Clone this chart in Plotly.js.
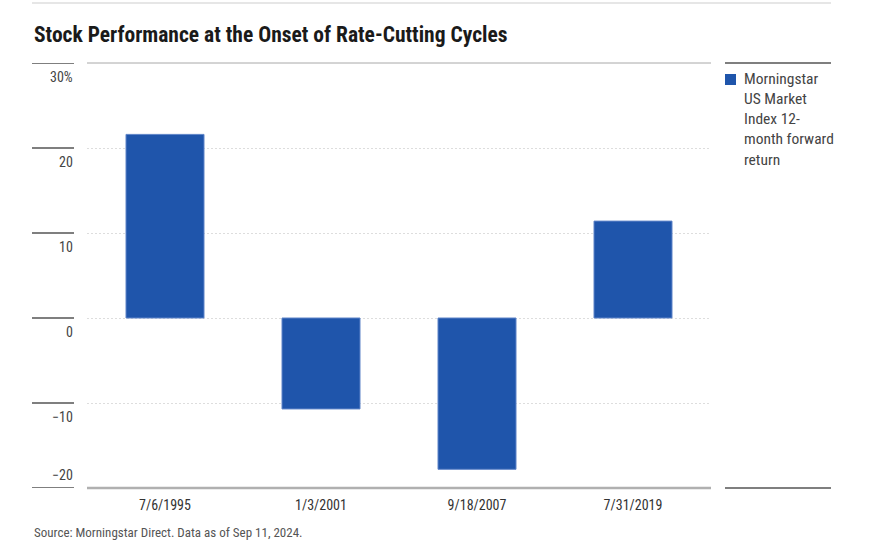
<!DOCTYPE html>
<html>
<head>
<meta charset="utf-8">
<script src="https://cdn.plot.ly/plotly-3.0.1.min.js"></script>
<style>
  html, body { margin: 0; padding: 0; background: #fff; }
  #chart { width: 881px; height: 547px; }
</style>
</head>
<body>
<div id="chart"></div>
<script>
// ---- data ----
const categories = ['7/6/1995', '1/3/2001', '9/18/2007', '7/31/2019'];
const returns12m = [21.6, -10.7, -17.8, 11.4];
const seriesName = 'Morningstar US Market Index 12-month forward return';
const seriesLines = ['Morningstar', 'US Market', 'Index 12-', 'month forward', 'return'];
const yTickValues = [30, 20, 10, 0, -10, -20];
const yTickLabels = ['30%', '20', '10', '0', '\u221210', '\u221220'];
const titleText = 'Stock Performance at the Onset of Rate-Cutting Cycles';
const sourceText = 'Source: Morningstar Direct. Data as of Sep 11, 2024.';

// ---- layout helpers ----
const FONT = '"Liberation Sans Narrow", "Roboto Condensed", "DejaVu Sans Condensed", Roboto, sans-serif';
const W = 881, H = 547;
const L = 87, R = 711, T = 63, B = 488;
const pw = R - L, ph = B - T;
const px = x => (x - L) / pw;       // pixel x -> paper x
const py = y => (B - y) / ph;       // pixel y -> paper y

const shapes = [];
const annotations = [];

// top faint rule
shapes.push({type: 'line', xref: 'paper', yref: 'paper', x0: px(32), x1: px(831), y0: py(3), y1: py(3),
  line: {color: '#e6e6e6', width: 2}});
// plot top line
shapes.push({type: 'line', xref: 'paper', yref: 'paper', x0: 0, x1: 1, y0: 1, y1: 1,
  line: {color: '#a8a8a8', width: 1}});
// plot bottom axis line
shapes.push({type: 'line', xref: 'paper', yref: 'paper', x0: 0, x1: 1, y0: 0, y1: 0,
  line: {color: '#b0b0b0', width: 2.5}});
// legend column rules
shapes.push({type: 'line', xref: 'paper', yref: 'paper', x0: px(725), x1: px(831), y0: 1, y1: 1,
  line: {color: '#555555', width: 1.5}});
shapes.push({type: 'line', xref: 'paper', yref: 'paper', x0: px(725), x1: px(831), y0: 0, y1: 0,
  line: {color: '#555555', width: 1.5}});

// y tick rules and labels
yTickValues.forEach((v, i) => {
  shapes.push({type: 'line', xref: 'paper', yref: 'y', x0: px(32), x1: px(74), y0: v, y1: v,
    line: {color: '#555555', width: 1.5}});
  const isBottom = (i === yTickValues.length - 1);
  annotations.push({
    xref: 'paper', yref: 'y', x: px(75), y: v, xanchor: 'right', yanchor: 'middle',
    yshift: isBottom ? 13 : -14, showarrow: false, text: yTickLabels[i],
    font: {family: FONT, size: 14, color: '#444444'}
  });
});

// title
annotations.push({
  xref: 'paper', yref: 'paper', x: px(32), y: py(35), xanchor: 'left', yanchor: 'middle',
  showarrow: false, text: '<b>' + titleText + '</b>',
  font: {family: FONT, size: 21.5, color: '#1a1a1a'}
});
// source
annotations.push({
  xref: 'paper', yref: 'paper', x: px(32), y: py(532), xanchor: 'left', yanchor: 'middle',
  showarrow: false, text: sourceText,
  font: {family: FONT, size: 13, color: '#555555'}
});
// legend swatch + text
shapes.push({type: 'rect', xref: 'paper', yref: 'paper', x0: px(725), x1: px(736), y0: py(74), y1: py(85),
  fillcolor: '#1F55AB', line: {width: 0}});
annotations.push({
  xref: 'paper', yref: 'paper', x: px(742), y: py(68), xanchor: 'left', yanchor: 'top', align: 'left',
  showarrow: false, text: seriesLines.join('<br>'),
  font: {family: FONT, size: 15.5, color: '#444444'}
});

const trace = {
  type: 'bar',
  x: categories,
  y: returns12m,
  name: seriesName,
  width: 0.5,
  marker: {color: '#1F55AB', line: {color: '#5f84c8', width: 1}},
  hoverinfo: 'x+y'
};

const layout = {
  width: W, height: H,
  margin: {l: L, r: W - R, t: T, b: H - B, pad: 0},
  paper_bgcolor: '#ffffff', plot_bgcolor: '#ffffff',
  showlegend: false,
  font: {family: FONT, color: '#333333'},
  xaxis: {
    type: 'category', range: [-0.5, 3.5], showgrid: false, zeroline: false, showline: false,
    ticks: '', ticklabelstandoff: 7, tickfont: {family: FONT, size: 14, color: '#333333'}, fixedrange: true
  },
  yaxis: {
    range: [-20, 30], tickvals: yTickValues, showticklabels: false, showgrid: true,
    gridcolor: '#dddddd', gridwidth: 1, griddash: '2px,2px', zeroline: false, showline: false,
    fixedrange: true
  },
  shapes: shapes,
  annotations: annotations
};

Plotly.newPlot('chart', [trace], layout, {displayModeBar: false, staticPlot: true});
</script>
</body>
</html>
